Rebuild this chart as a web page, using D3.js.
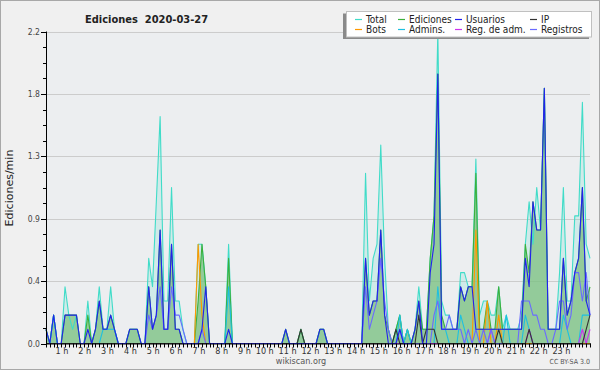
<!DOCTYPE html>
<html>
<head>
<meta charset="utf-8">
<script src="https://cdn.jsdelivr.net/npm/d3@7"></script>
<style>
  html, body { margin: 0; padding: 0; background: #f0f0f0; }
  svg { display: block; }
  text { font-family: "DejaVu Sans", sans-serif; font-stretch: condensed; }
</style>
</head>
<body>
<svg id="chart" width="600" height="370"></svg>
<script>
// ---- Data: edits per minute, 10-minute bins (144 bins over the day) ----
const hours = d3.range(1, 24);            // hour tick labels "1 h" ... "23 h"
const yTicks = [0, 0.44, 0.88, 1.32, 1.76, 2.2];
const yTickLabels = ["0.0", "0.4", "0.9", "1.3", "1.8", "2.2"];

const total = [
  .1,0,.2,0,0,.4,  .2,.1,.2,0,0,.3,  0,.1,.4,.1,.1,.4,  .1,0,0,0,.1,.1,
  .1,0,0,.6,.4,1.0,  1.6,.3,.3,1.1,.3,.3,  .1,0,0,0,.7,.7,  .4,0,0,0,0,0,
  .7,0,0,0,0,0,  0,0,0,0,0,0,  0,0,0,.1,0,0,  0,.1,0,0,0,0,
  .1,.1,0,0,0,0,  0,0,0,0,0,0,  1.2,.3,.6,.7,1.4,.6,  .1,0,.1,.2,0,.1,
  0,.1,.4,.1,.1,.6,  .9,2.2,.3,.2,.2,.1,  .1,.5,.5,.4,.4,1.3,  .2,.3,.3,.2,.2,.4,
  .1,.2,.1,.1,.1,.2,  .7,1.0,.7,1.1,.8,1.8,  .1,.1,.1,.5,1.1,.3,  .3,.9,.9,1.7,.7,.6
];
const ediciones = [
  .1,0,.2,0,0,.2,  .2,.2,.2,0,0,.2,  0,.1,.3,.1,.1,.2,  .1,0,0,0,.1,.1,
  .1,0,0,.4,.1,.2,  .8,.1,.1,.7,.1,.1,  0,0,0,0,.3,.7,  .4,0,0,0,0,0,
  .6,0,0,0,0,0,  0,0,0,0,0,0,  0,0,0,.1,0,0,  0,.1,0,0,0,0,
  .1,.1,0,0,0,0,  0,0,0,0,0,0,  .6,.2,.3,.3,.8,.2,  .1,0,.1,.2,0,.1,
  0,.1,.3,.1,.1,.6,  .9,1.9,.2,.1,.1,.1,  .1,.4,.3,.4,.4,1.2,  .1,.1,.3,.1,.1,.4,
  .1,.1,.1,.1,.1,.1,  .7,.5,1.0,.8,.8,1.8,  .1,.1,.1,.1,.6,.2,  .3,.5,.6,1.1,.3,.4
];
const usuarios = [
  .1,0,.2,0,0,.2,  .2,.2,.2,0,0,.1,  0,.1,.3,.1,.1,.2,  .1,0,0,0,.1,.1,
  .1,0,0,.4,.1,.2,  .8,.1,.1,.7,.1,.1,  0,0,0,0,0,.1,  .4,0,0,0,0,0,
  .1,0,0,0,0,0,  0,0,0,0,0,0,  0,0,0,.1,0,0,  0,0,0,0,0,0,
  .1,.1,0,0,0,0,  0,0,0,0,0,0,  .6,.2,.3,.3,.8,.2,  0,0,0,.1,0,0,
  0,.1,.3,0,0,.5,  .7,1.9,.1,.1,.1,.1,  .1,.4,.3,.4,.4,.1,  .1,.1,.1,.1,.1,.1,
  .1,.1,.1,.1,.1,.1,  .6,.4,1.0,.8,.8,1.8,  .1,.1,.1,.1,.6,.2,  .3,.5,.6,1.1,.3,.2
];
const ip = [
  0,0,0,0,0,0,  0,0,0,0,0,0,  0,0,0,0,0,0,  0,0,0,0,0,0,
  0,0,0,0,0,0,  0,0,0,0,0,0,  0,0,0,0,0,0,  0,0,0,0,0,0,
  0,0,0,0,0,0,  0,0,0,0,0,0,  0,0,0,0,0,0,  0,.1,0,0,0,0,
  0,0,0,0,0,0,  0,0,0,0,0,0,  0,0,0,0,0,0,  0,0,.1,0,0,0,
  0,0,.2,0,.1,.1,  .1,0,0,0,0,0,  0,0,0,0,0,0,  0,0,0,0,0,.1,
  0,0,0,0,0,0,  0,.1,0,0,0,0,  0,0,0,0,0,0,  0,0,0,0,.1,.2
];
const bots = [
  0,0,0,0,0,0,  0,0,0,0,0,0,  0,0,0,0,0,0,  0,0,0,0,0,0,
  0,0,0,0,0,0,  0,0,0,0,0,0,  0,0,0,0,.7,.2,  0,0,0,0,0,0,
  0,0,0,0,0,0,  0,0,0,0,0,0,  0,0,0,0,0,0,  0,0,0,0,0,0,
  0,0,0,0,0,0,  0,0,0,0,0,0,  0,0,0,0,0,0,  0,0,0,0,0,0,
  0,0,0,0,0,0,  0,0,0,0,0,0,  0,0,0,0,0,.8,  0,0,.3,0,0,.2,
  0,0,0,0,0,0,  0,0,0,0,0,0,  0,0,0,0,0,0,  0,0,0,0,0,0
];
const admins = [
  0,0,.2,0,0,0,  0,0,0,0,0,0,  0,0,0,.1,.1,.1,  .1,0,0,0,0,0,
  0,0,0,0,0,0,  0,0,0,0,0,0,  0,0,0,0,0,0,  0,0,0,0,0,0,
  .4,0,0,0,0,0,  0,0,0,0,0,0,  0,0,0,0,0,0,  0,0,0,0,0,0,
  0,0,0,0,0,0,  0,0,0,0,0,0,  0,0,0,0,0,0,  0,0,0,.2,0,.1,
  0,0,0,0,0,0,  0,.4,.1,.1,0,0,  0,.2,.1,0,0,0,  0,0,0,0,0,0,
  0,.2,0,0,0,0,  .2,.1,0,0,0,0,  0,0,0,0,.2,.1,  0,0,0,.2,.2,.2
];
const regAdm = [
  0,0,0,0,0,0,  0,0,0,0,0,0,  0,0,0,0,0,0,  0,0,0,0,0,0,
  0,0,0,0,0,0,  0,0,0,0,0,0,  0,0,0,0,0,0,  0,0,0,0,0,0,
  0,0,0,0,0,0,  0,0,0,0,0,0,  0,0,0,0,0,0,  0,0,0,0,0,0,
  0,0,0,0,0,0,  0,0,0,0,0,0,  0,0,0,0,0,0,  0,0,0,0,0,0,
  0,0,0,0,0,0,  0,0,0,0,0,0,  0,0,0,0,0,0,  0,0,0,.1,0,0,
  0,0,0,0,0,0,  0,.1,0,0,0,0,  0,0,0,0,0,0,  0,0,0,.1,0,.1
];
const registros = [
  0,0,0,0,0,0,  0,0,0,0,0,0,  0,0,0,0,0,0,  0,0,0,0,0,0,
  0,0,0,.2,.1,.2,  .4,.1,.1,.4,.2,.2,  .1,0,0,0,0,.1,  0,0,0,0,0,0,
  0,0,0,0,0,0,  0,0,0,0,0,0,  0,0,0,0,0,0,  0,0,0,0,0,0,
  0,0,0,0,0,0,  0,0,0,0,0,0,  .4,.1,.2,.3,.6,.3,  .1,0,0,.1,0,0,
  0,0,0,0,0,0,  .2,.3,.1,.1,.2,.1,  .1,.1,0,.1,0,.1,  0,.1,0,.1,0,0,
  0,0,0,0,0,.3,  .3,.3,.2,.2,.1,.1,  0,0,.1,.3,.3,.1,  .2,.5,.5,.3,.5,.2
];

const seriesNames = ["Total","Ediciones","Usuarios","IP","Bots","Admins.","Reg. de adm.","Registros"];
const seriesColors = ["#40dcc8","#3cb03c","#2222ee","#333333","#ff9900","#1ec0e0","#cc33ee","#6a6aff"];
const seriesData = [total, ediciones, usuarios, ip, bots, admins, regAdm, registros];

// ---- Layout ----
const W = 600, H = 370;
const m = {left: 46, right: 590, top: 31.5, bottom: 343.5};
const svg = d3.select("#chart");

svg.append("rect").attr("x", 0.5).attr("y", 0.5).attr("width", W - 1).attr("height", H - 1)
  .attr("fill", "#f0f0f0").attr("stroke", "#a8a8a8");

const x = d3.scaleLinear().domain([0, total.length - 1]).range([m.left, m.right]);
const y = d3.scaleLinear().domain([0, 2.2]).range([m.bottom, m.top]);

// plot background
svg.append("rect").attr("x", m.left).attr("y", m.top).attr("width", m.right - m.left)
  .attr("height", m.bottom - m.top).attr("fill", "#eceef0");

// gridlines
svg.append("g").selectAll("line").data(yTicks.slice(1)).join("line")
  .attr("x1", m.left).attr("x2", m.right)
  .attr("y1", d => Math.round(y(d)) + 0.5).attr("y2", d => Math.round(y(d)) + 0.5)
  .attr("stroke", "#cccccc").attr("stroke-width", 1);

// areas
const area = d3.area().x((d, i) => x(i)).y0(y(0)).y1(d => y(d));
svg.append("path").datum(total).attr("d", area).attr("fill", "#40dcc8").attr("fill-opacity", 0.16);
svg.append("path").datum(ediciones).attr("d", area).attr("fill", "#7fc07f").attr("fill-opacity", 0.75);

// lines
const line = d3.line().x((d, i) => x(i)).y(d => y(d));
const drawOrder = [0, 1, 4, 5, 6, 7, 3, 2];
svg.append("g").selectAll("path").data(drawOrder).join("path")
  .attr("d", k => line(seriesData[k]))
  .attr("fill", "none")
  .attr("stroke", k => seriesColors[k])
  .attr("stroke-width", 1.1)
  .attr("stroke-linejoin", "round");

// y axis
const yAxis = svg.append("g").attr("transform", `translate(${m.left},0)`);
yAxis.append("line").attr("x1", 0.5).attr("x2", 0.5).attr("y1", m.top).attr("y2", m.bottom + 1).attr("stroke", "#000");
const minorY = d3.range(0, 2.2001, 0.11);
yAxis.selectAll("line.minor").data(minorY).join("line").attr("class", "minor")
  .attr("x1", -3).attr("x2", 0)
  .attr("y1", d => Math.round(y(d)) + 0.5).attr("y2", d => Math.round(y(d)) + 0.5)
  .attr("stroke", "#000");
yAxis.selectAll("line.major").data(yTicks).join("line").attr("class", "major")
  .attr("x1", -5).attr("x2", 0)
  .attr("y1", d => Math.round(y(d)) + 0.5).attr("y2", d => Math.round(y(d)) + 0.5)
  .attr("stroke", "#000");
yAxis.selectAll("text").data(yTicks).join("text")
  .attr("x", -6).attr("y", d => y(d) + 3)
  .attr("text-anchor", "end").attr("font-size", 8.5).attr("fill", "#444")
  .text((d, i) => yTickLabels[i]);

// x axis
const xAxis = svg.append("g");
xAxis.append("line").attr("x1", m.left).attr("x2", m.right + 1).attr("y1", m.bottom + 0.5).attr("y2", m.bottom + 0.5).attr("stroke", "#000");
xAxis.selectAll("line.tick").data(d3.range(0, total.length)).join("line").attr("class", "tick")
  .attr("x1", d => Math.round(x(d)) + 0.5).attr("x2", d => Math.round(x(d)) + 0.5)
  .attr("y1", m.bottom).attr("y2", m.bottom + 4)
  .attr("stroke", "#000");
xAxis.selectAll("text").data(hours).join("text")
  .attr("x", h => x(h * 6) - 0.5).attr("y", 354)
  .attr("text-anchor", "end").attr("font-size", 9).attr("fill", "#333")
  .text(h => h + " h");

// axis title
svg.append("text").attr("transform", "translate(13,188) rotate(-90)")
  .attr("text-anchor", "middle").attr("font-size", 11).attr("fill", "#222")
  .style("font-stretch", "normal")
  .text("Ediciones/min");

// chart title
svg.append("text").attr("x", 85).attr("y", 23).attr("font-size", 11).attr("font-weight", "bold")
  .attr("fill", "#222").attr("xml:space", "preserve").style("white-space", "pre")
  .text("Ediciones  2020-03-27");

// footer
svg.append("text").attr("x", 301).attr("y", 364).attr("text-anchor", "middle")
  .attr("font-size", 9).attr("fill", "#555").text("wikiscan.org");
svg.append("text").attr("x", 590).attr("y", 364).attr("text-anchor", "end")
  .attr("font-size", 7).attr("fill", "#555").text("CC BY-SA 3.0");

// legend
const lg = svg.append("g");
lg.append("rect").attr("x", 343).attr("y", 13.5).attr("width", 246).attr("height", 25.5).attr("fill", "#8a8a8a");
lg.append("rect").attr("x", 346.5).attr("y", 11.5).attr("width", 245).attr("height", 25.5)
  .attr("fill", "#ffffff").attr("stroke", "#c0c0c0");
const colX = [355, 398, 455, 530];
const rowY = [19.5, 29.5];
const items = lg.selectAll("g.item").data(seriesNames).join("g").attr("class", "item")
  .attr("transform", (d, i) => `translate(${colX[i % 4]},${rowY[Math.floor(i / 4)]})`);
items.append("line").attr("x1", 0).attr("x2", 7).attr("y1", 0).attr("y2", 0)
  .attr("stroke", (d, i) => seriesColors[i]).attr("stroke-width", 1.2);
items.append("text").attr("x", 11).attr("y", 3.5).attr("font-size", 10).attr("fill", "#222").text(d => d);
</script>
</body>
</html>
